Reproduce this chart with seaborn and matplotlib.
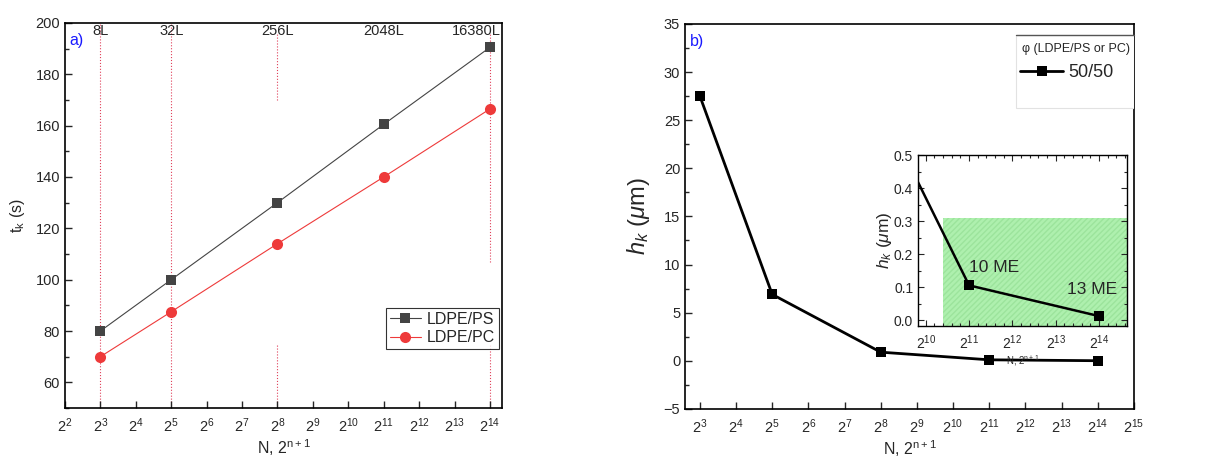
import numpy as np
import pandas as pd
import matplotlib
matplotlib.use("Agg")
import matplotlib.pyplot as plt
from matplotlib.patches import Rectangle
from matplotlib.ticker import FixedLocator, FuncFormatter, MultipleLocator, NullLocator, NullFormatter
import seaborn as sns

# ---------------- data ----------------
n_exp = [3, 5, 8, 11, 14]                      # N = 2^n
top_labels = ["8L", "32L", "256L", "2048L", "16380L"]
t_ps = [80, 100, 130, 160.5, 190.5]           # LDPE/PS  t_k (s)
t_pc = [70, 87.5, 114, 140, 166.5]            # LDPE/PC  t_k (s)
h_5050 = [27.5, 6.9, 0.9, 0.105, 0.012]       # h_k (um), 50/50
guide_exp = [3, 5, 8, 14]                     # red dotted guides in a)
green_band = (10.4, 0.31)                     # inset shaded region: start exponent, top value

N = [2 ** e for e in n_exp]

sns.set_theme(style="ticks")
plt.rcParams["font.family"] = ["Liberation Sans", "DejaVu Sans"]
plt.rcParams["mathtext.fontset"] = "custom"
plt.rcParams["mathtext.rm"] = "Liberation Sans"
plt.rcParams["mathtext.it"] = "Liberation Sans:italic"
plt.rcParams["axes.linewidth"] = 1.2

fig = plt.figure(figsize=(12.14, 4.59), dpi=100)
axA = fig.add_axes([0.0535, 0.111, 0.360, 0.839])
axB = fig.add_axes([0.5643, 0.109, 0.3697, 0.839])
axI = fig.add_axes([0.7562, 0.2898, 0.1722, 0.3725])

pow_fmt = FuncFormatter(lambda v, p: r"$2^{%d}$" % int(round(np.log2(v))))

def style_log_x(ax, lo, hi, tick_lo, tick_hi):
    ax.set_xscale("log", base=2)
    ax.set_xlim(2 ** lo, 2 ** hi)
    ax.xaxis.set_major_locator(FixedLocator([2.0 ** k for k in range(tick_lo, tick_hi + 1)]))
    ax.xaxis.set_major_formatter(pow_fmt)
    ax.xaxis.set_minor_locator(NullLocator())
    ax.xaxis.set_minor_formatter(NullFormatter())

for s in list(axA.spines.values()) + list(axB.spines.values()):
    s.set_color("black")

GUIDE = "#e0405a"

# ---------------- panel a ----------------
dfa = pd.DataFrame({"N": N * 2, "t": t_ps + t_pc,
                    "s": ["LDPE/PS"] * 5 + ["LDPE/PC"] * 5})
sns.lineplot(data=dfa[dfa.s == "LDPE/PS"], x="N", y="t", ax=axA, color="#444444",
             lw=0.8, marker="s", markersize=7, markeredgewidth=0, label="LDPE/PS")
sns.lineplot(data=dfa[dfa.s == "LDPE/PC"], x="N", y="t", ax=axA, color="#ee3a3a",
             lw=0.8, marker="o", markersize=8, markeredgewidth=0, label="LDPE/PC")
style_log_x(axA, 2, 14.34, 2, 14)
axA.set_ylim(50, 200)
axA.set_yticks([60, 80, 100, 120, 140, 160, 180, 200])
axA.yaxis.set_minor_locator(MultipleLocator(10))
axA.tick_params(axis="x", which="both", direction="in", length=5, width=1, labelsize=10.5, pad=6)
axA.tick_params(axis="y", which="major", direction="in", length=5, width=1, labelsize=10.5)
axA.tick_params(axis="y", which="minor", direction="in", length=3, width=1)
axA.set_xlabel(r"N, 2$^{\mathrm{n+1}}$", fontsize=11.5, labelpad=2)
axA.set_ylabel(r"$\mathrm{t_k}$ (s)", fontsize=11.5, labelpad=6)

for e in guide_exp:
    if e in (3, 5):
        axA.axvline(2 ** e, color=GUIDE, lw=0.8, ls=":", zorder=0)
    elif e == 8:
        axA.plot([2 ** e, 2 ** e], [170, 196], color=GUIDE, lw=0.8, ls=":", zorder=0)
        axA.plot([2 ** e, 2 ** e], [50, 75], color=GUIDE, lw=0.8, ls=":", zorder=0)
    else:
        axA.plot([2 ** e, 2 ** e], [107, 196], color=GUIDE, lw=0.8, ls=":", zorder=0)
        axA.plot([2 ** e, 2 ** e], [50, 75], color=GUIDE, lw=0.8, ls=":", zorder=0)

xr = axA.get_xlim()[1]
for i, (nn, lab) in enumerate(zip(N, top_labels)):
    if i == len(N) - 1:
        axA.text(xr * 0.985, 197.0, lab, fontsize=10.5, ha="right", va="center")
    else:
        axA.text(nn, 197.0, lab, fontsize=10.5, ha="center", va="center")
axA.text(0.01, 0.955, "a)", transform=axA.transAxes, color="#1a1aff", fontsize=11.5, va="center")

legA = axA.legend(loc="lower left", bbox_to_anchor=(0.735, 0.153, 0.235, 0.115), fontsize=11.5,
                  frameon=True, fancybox=False, edgecolor="black", borderpad=0.25,
                  handlelength=1.9, handletextpad=0.4, labelspacing=0.2, borderaxespad=0)
legA.get_frame().set_linewidth(0.8)

# ---------------- panel b ----------------
dfb = pd.DataFrame({"N": N, "h": h_5050})
sns.lineplot(data=dfb, x="N", y="h", ax=axB, color="black", lw=2, marker="s",
             markersize=7, markeredgewidth=0, label="50/50")
style_log_x(axB, 2.59, 15.0, 3, 15)
axB.set_ylim(-5, 35)
axB.yaxis.set_major_locator(MultipleLocator(5))
axB.yaxis.set_minor_locator(MultipleLocator(2.5))
axB.tick_params(axis="x", which="both", direction="in", length=5, width=1, labelsize=10.5, pad=6)
axB.tick_params(axis="y", which="major", direction="in", length=5, width=1, labelsize=10.5)
axB.tick_params(axis="y", which="minor", direction="in", length=3, width=1)
axB.set_xlabel(r"N, 2$^{\mathrm{n+1}}$", fontsize=11.5, labelpad=2)
axB.set_ylabel(r"$h_k$ ($\mu$m)", fontsize=17, labelpad=8)
axB.text(0.01, 0.955, "b)", transform=axB.transAxes, color="#1a1aff", fontsize=11.5, va="center")

axB.add_patch(Rectangle((0.738, 0.782), 0.262, 0.189, transform=axB.transAxes,
                        facecolor="white", edgecolor="#e2e2e2", lw=0.8, zorder=4))
axB.plot([0.738, 1.0], [0.971, 0.971], transform=axB.transAxes, color="#555555", lw=1.0,
         clip_on=False, zorder=10)
legB = axB.legend(loc="upper left", bbox_to_anchor=(0.738, 0.960, 0.262, 0.0), mode="expand",
                  title=r"φ (LDPE/PS or PC)", title_fontsize=9, fontsize=13,
                  frameon=False, borderpad=0.2,
                  handlelength=2.4, handletextpad=0.3, borderaxespad=0, alignment="right")
legB.set_zorder(11)

# ---------------- inset ----------------
band_lo, band_top = green_band
axI.fill_between([2 ** band_lo, 2 ** 14.65], -0.02, band_top, facecolor="#aef0ae",
                 edgecolor="#9ce49c", hatch="//////", lw=0, zorder=0)
sns.lineplot(data=dfb, x="N", y="h", ax=axI, color="black", lw=1.8, marker="s",
             markersize=6.5, markeredgewidth=0, legend=False)
style_log_x(axI, 9.82, 14.65, 10, 14)
minor = [2.0 ** (k + j / 5) for k in range(9, 15) for j in range(1, 5)]
axI.xaxis.set_minor_locator(FixedLocator(minor))
axI.xaxis.set_minor_formatter(NullFormatter())
axI.set_ylim(-0.018, 0.5)
axI.yaxis.set_major_locator(MultipleLocator(0.1))
axI.yaxis.set_minor_locator(MultipleLocator(0.05))
axI.yaxis.set_major_formatter(FuncFormatter(lambda v, p: "%.1f" % v))
axI.tick_params(which="both", direction="in", top=True, right=True, width=0.8, labelsize=10)
axI.tick_params(which="major", length=4)
axI.tick_params(which="minor", length=2)
axI.tick_params(axis="x", pad=5)
for s in axI.spines.values():
    s.set_color("black")
    s.set_linewidth(1.0)
axI.set_xlabel(r"N, 2$^{\mathrm{n+1}}$", fontsize=7, labelpad=1)
axI.set_ylabel(r"$h_k$ ($\mu$m)", fontsize=12.5, labelpad=0)
axI.text(2 ** 11.0, 0.135, "10 ME", fontsize=12.5, ha="left", va="bottom")
axI.text(2 ** 13.26, 0.07, "13 ME", fontsize=12.5, ha="left", va="bottom")

fig.savefig("out.png", dpi=100)
